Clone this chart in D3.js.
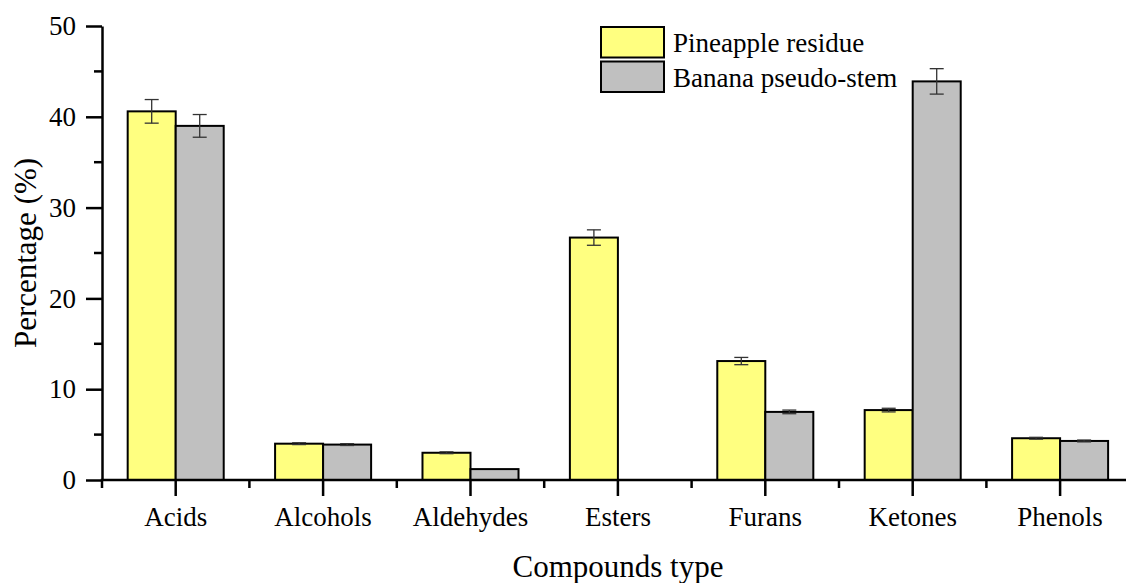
<!DOCTYPE html>
<html>
<head>
<meta charset="utf-8">
<script src="https://cdn.jsdelivr.net/npm/d3@7/dist/d3.min.js"></script>
<style>
  body { margin: 0; background: #fff; }
</style>
</head>
<body>
<svg id="chart" width="1126" height="583" font-family="'Liberation Serif'"></svg>
<script>
// data
const categories = ["Acids", "Alcohols", "Aldehydes", "Esters", "Furans", "Ketones", "Phenols"];
const seriesNames = ["Pineapple residue", "Banana pseudo-stem"];
const pineapple = [40.6, 4.0, 3.0, 26.7, 13.1, 7.7, 4.6];
const pineappleErr = [1.3, 0.1, 0.1, 0.85, 0.4, 0.2, 0.1];
const banana = [39.0, 3.9, 1.2, 0, 7.5, 43.9, 4.3];
const bananaErr = [1.25, 0.1, 0, 0, 0.2, 1.4, 0.1];
const yTicks = [0, 10, 20, 30, 40, 50];
const yMinor = [5, 15, 25, 35, 45];
const colors = ["#ffff80", "#c0c0c0"];

const FONT = "'Liberation Serif'";
const svg = d3.select("#chart");
const W = 1126;
const axisW = 2.5;

const y = d3.scaleLinear().domain([0, 50]).range([480, 26]);
const x0 = d3.scaleBand().domain(categories).range([102, 102 + 147.4 * 7]).padding(0);
const x1 = d3.scaleBand().domain(seriesNames).range([0, x0.bandwidth()]).paddingInner(0).paddingOuter(0.535);

const rows = categories.map((c, i) => ({
  cat: c,
  vals: [
    { s: seriesNames[0], v: pineapple[i], e: pineappleErr[i], color: colors[0] },
    { s: seriesNames[1], v: banana[i], e: bananaErr[i], color: colors[1] }
  ]
}));

// bars
const groups = svg.append("g").selectAll("g")
  .data(rows).join("g")
  .attr("transform", d => "translate(" + x0(d.cat) + ",0)");

groups.selectAll("rect")
  .data(d => d.vals.filter(v => v.v > 0))
  .join("rect")
  .attr("x", d => x1(d.s))
  .attr("y", d => y(d.v))
  .attr("width", x1.bandwidth())
  .attr("height", d => y(0) - y(d.v))
  .attr("fill", d => d.color)
  .attr("stroke", "#000")
  .attr("stroke-width", 2);

// error bars
const eb = groups.selectAll("g.err")
  .data(d => d.vals.filter(v => v.e > 0))
  .join("g").attr("class", "err")
  .attr("stroke", "#333")
  .attr("stroke-width", 1.3);
eb.append("line")
  .attr("x1", d => x1(d.s) + x1.bandwidth() / 2)
  .attr("x2", d => x1(d.s) + x1.bandwidth() / 2)
  .attr("y1", d => y(d.v + d.e))
  .attr("y2", d => y(d.v - d.e));
eb.selectAll("line.cap")
  .data(d => [{ d: d, val: d.v + d.e }, { d: d, val: d.v - d.e }])
  .join("line").attr("class", "cap")
  .attr("x1", p => x1(p.d.s) + x1.bandwidth() / 2 - 7)
  .attr("x2", p => x1(p.d.s) + x1.bandwidth() / 2 + 7)
  .attr("y1", p => y(p.val))
  .attr("y2", p => y(p.val));

// y axis
const yAxis = svg.append("g")
  .attr("transform", "translate(102,0)")
  .call(d3.axisLeft(y).tickValues(yTicks).tickSize(16).tickPadding(10).tickSizeOuter(0));
yAxis.attr("font-family", FONT);
yAxis.select(".domain").attr("stroke-width", axisW);
yAxis.selectAll(".tick line").attr("stroke-width", axisW);
yAxis.selectAll(".tick text").attr("fill", "#000")
  .style("font-family", FONT).style("font-size", "27px");
yAxis.selectAll(".minor").data(yMinor).join("line")
  .attr("class", "minor")
  .attr("x1", -8).attr("x2", 0)
  .attr("y1", d => y(d)).attr("y2", d => y(d))
  .attr("stroke", "#000").attr("stroke-width", axisW);

// x axis
const xAxis = svg.append("g")
  .attr("transform", "translate(0,480)")
  .call(d3.axisBottom(x0).tickSize(16).tickSizeOuter(0));
xAxis.attr("font-family", FONT);
xAxis.select(".domain").remove();
xAxis.append("line")
  .attr("x1", 102 - axisW / 2).attr("x2", W)
  .attr("stroke", "#000").attr("stroke-width", axisW);
xAxis.selectAll(".tick line").attr("stroke-width", axisW);
xAxis.selectAll(".tick text")
  .attr("fill", "#000")
  .style("font-family", FONT).style("font-size", "27px")
  .attr("y", 46).attr("dy", 0);
xAxis.selectAll(".minor")
  .data(categories.map(c => x0(c)).concat([x0(categories[categories.length - 1]) + x0.bandwidth()]).filter(v => v < W))
  .join("line").attr("class", "minor")
  .attr("x1", d => d).attr("x2", d => d)
  .attr("y1", 0).attr("y2", 8)
  .attr("stroke", "#000").attr("stroke-width", axisW);

// axis titles
svg.append("text")
  .attr("x", 618).attr("y", 577)
  .attr("text-anchor", "middle")
  .style("font-family", FONT).style("font-size", "31px")
  .text("Compounds type");
svg.append("text")
  .attr("transform", "translate(36,253) rotate(-90)")
  .attr("text-anchor", "middle")
  .style("font-family", FONT).style("font-size", "31px")
  .text("Percentage (%)");

// legend
const legend = svg.append("g").attr("transform", "translate(601,27)");
const li = legend.selectAll("g").data(seriesNames).join("g")
  .attr("transform", (d, i) => "translate(0," + i * 34.5 + ")");
li.append("rect")
  .attr("width", 63).attr("height", 30.5)
  .attr("fill", (d, i) => colors[i])
  .attr("stroke", "#000").attr("stroke-width", 2);
li.append("text")
  .attr("x", 72).attr("y", 25)
  .style("font-family", FONT).style("font-size", "27px")
  .text(d => d);
</script>
</body>
</html>
